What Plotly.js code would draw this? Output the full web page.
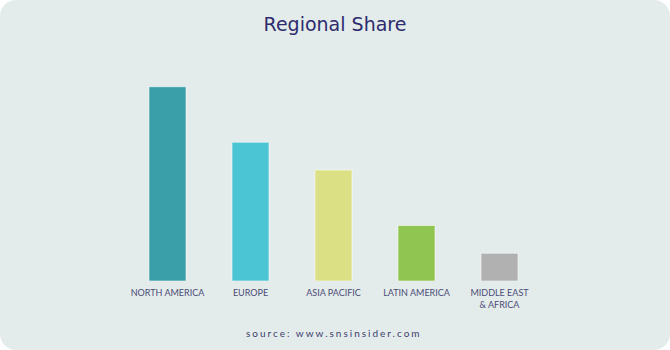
<!DOCTYPE html>
<html>
<head>
<meta charset="utf-8">
<script src="https://cdn.plot.ly/plotly-3.0.1.min.js"></script>
<style>
  html, body { margin: 0; padding: 0; background: #ffffff; }
  #chart { width: 670px; height: 350px; background: #e3ecea; border-radius: 16px; overflow: hidden; }
  .annotation-text { letter-spacing: 2px; }
</style>
</head>
<body>
<div id="chart"></div>
<script>
const categories = ["NORTH AMERICA", "EUROPE", "ASIA PACIFIC", "LATIN AMERICA", "MIDDLE EAST<br>& AFRICA"];
const values = [35, 25, 20, 10, 5];
const barColors = ["#3a9fa8", "#4bc5d3", "#dce085", "#8fc550", "#b1b1b1"];

const trace = {
  type: "bar",
  x: categories,
  y: values,
  marker: { color: barColors, line: { color: "rgba(255,255,255,0.55)", width: 1 } },
  hoverinfo: "x+y"
};

const layout = {
  width: 670, height: 350,
  paper_bgcolor: "rgba(0,0,0,0)",
  plot_bgcolor: "rgba(0,0,0,0)",
  margin: { l: 126, r: 129, t: 59, b: 69 },
  bargap: 0.554,
  showlegend: false,
  title: {
    text: "Regional Share",
    x: 0.5, xanchor: "center", y: 0.93, yanchor: "middle",
    font: { family: "'DejaVu Sans', sans-serif", size: 19, color: "#2e2b6e" }
  },
  xaxis: {
    showgrid: false, zeroline: false, showline: false, ticks: "",
    ticklabelstandoff: 5,
    tickfont: { family: "Lato, 'Open Sans', sans-serif", size: 9, color: "#4b4b78" },
    range: [-0.5, 4.5]
  },
  yaxis: {
    range: [0, 40], visible: false, showgrid: false, zeroline: false
  },
  annotations: [{
    text: "source: www.snsinsider.com",
    xref: "paper", yref: "paper", x: 0.5, y: -0.235,
    xanchor: "center", yanchor: "middle", showarrow: false,
    font: { family: "Lato, 'Open Sans', sans-serif", size: 10, color: "#3d3d6d" }
  }]
};

Plotly.newPlot("chart", [trace], layout, { displayModeBar: false, staticPlot: true });
</script>
</body>
</html>
